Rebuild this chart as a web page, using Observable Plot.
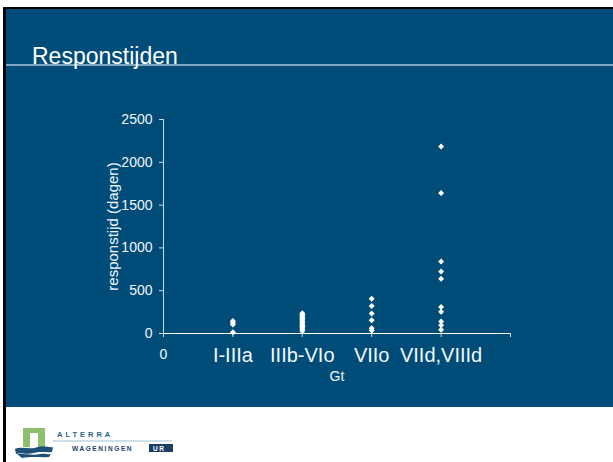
<!DOCTYPE html>
<html>
<head>
<meta charset="utf-8">
<script src="https://cdn.jsdelivr.net/npm/d3@7"></script>
<script src="https://cdn.jsdelivr.net/npm/@observablehq/plot@0.6"></script>
<style>
  html, body { margin: 0; padding: 0; background: #fff; width: 613px; height: 462px; overflow: hidden; font-family: "Liberation Sans", Arial, sans-serif; }
  .abs { position: absolute; }
</style>
</head>
<body>
<div class="abs" style="left:3px;top:7px;width:610px;height:2px;background:#000"></div>
<div class="abs" style="left:3px;top:7px;width:3px;height:455px;background:#000"></div>
<div class="abs" style="left:6px;top:9px;width:607px;height:398px;background:#004c79"></div>
<div class="abs" style="left:6px;top:64px;width:607px;height:2px;background:#7fa7c2"></div>
<div class="abs" style="left:32px;top:45px;font-size:23px;line-height:1;color:#fff;white-space:nowrap">Responstijden</div>
<div id="chart" class="abs" style="left:0;top:100px"></div>
<svg class="abs" style="left:0;top:415px" width="200" height="47">
  <path d="M23,13 H45 V32 H38 V18 H30 V32 H23 Z" fill="#8cc06b"/>
  <path d="M15,34 C22,31 30,35 38,32 C44,30 50,33 53,32 L52,37 C46,38 40,36 34,38 C26,40 20,37 16,39 Z" fill="#1f5078"/>
  <path d="M17,39 C24,38 32,41 40,39 C45,38 49,40 51,39 L49,42 C42,43 32,41 22,43 Z" fill="#1f5078"/>
  <text x="57" y="22" font-size="7.5" font-weight="bold" fill="#2b5f8f" letter-spacing="3">ALTERRA</text>
  <rect x="53" y="25.5" width="119" height="1" fill="#9fbfd6"/>
  <text x="72" y="36" font-size="6.5" font-weight="bold" fill="#1c3f66" letter-spacing="1.6">WAGENINGEN</text>
  <rect x="149" y="29" width="24" height="8" fill="#1c3f66"/>
  <text x="153" y="36" font-size="6.5" font-weight="bold" fill="#fff" letter-spacing="1.5">UR</text>
</svg>
<script>
const categories = ["I-IIIa", "IIIb-VIo", "VIIo", "VIId,VIIId"];
const valuesIIIIa = [145, 125, 105, 15];
const valuesIIIbVIo = [238, 220, 205, 190, 172, 160, 142, 128, 110, 95, 82, 66, 50, 30];
const valuesVIIo = [405, 320, 235, 155, 60, 35];
const valuesVIId = [2185, 1640, 840, 725, 640, 310, 255, 140, 95, 45];
const yTicks = [0, 500, 1000, 1500, 2000, 2500];
const xLabel = "Gt";
const yLabel = "responstijd (dagen)";

const series = [valuesIIIIa, valuesIIIbVIo, valuesVIIo, valuesVIId];
const points = series.flatMap((vals, i) => vals.map(v => ({x: i + 1, y: v})));

const axisCol = "#c9d9e6";
const chart = Plot.plot({
  width: 613,
  height: 300,
  marginLeft: 163,
  marginRight: 103,
  marginTop: 19,
  marginBottom: 67,
  x: {domain: [0, 5]},
  y: {domain: [0, 2500]},
  style: {background: "transparent", color: "#f2f6f9", fontFamily: "'Liberation Sans', Arial, sans-serif", fontSize: "14px", overflow: "visible"},
  marks: [
    Plot.ruleX([0], {y1: 0, y2: 2500, stroke: axisCol}),
    Plot.axisY({ticks: yTicks, tickSize: 4, tickPadding: 7, tickFormat: d => String(d), fontSize: 14, label: null, stroke: axisCol}),
    Plot.axisX({ticks: [0, 1, 2, 3, 4, 5], tickSize: 4, tickFormat: () => "", label: null, stroke: axisCol}),
    Plot.ruleY([0], {stroke: "#ffffff", strokeWidth: 1.2}),
    Plot.axisX({ticks: [1, 2, 3, 4], tickSize: 0, tickPadding: 14, tickFormat: d => categories[d - 1], fontSize: 20, label: null}),
    Plot.axisX({ticks: [0], tickSize: 0, tickPadding: 16, tickFormat: d => String(d), fontSize: 14, label: null}),
    Plot.text([xLabel], {frameAnchor: "bottom", lineAnchor: "top", dy: 38, fontSize: 14, fill: "#f2f6f9"}),
    Plot.text([yLabel], {frameAnchor: "left", textAnchor: "middle", rotate: -90, dx: -50, fontSize: 15, fill: "#f2f6f9"}),
    Plot.dot(points, {x: "x", y: "y", symbol: "diamond2", r: 2.7, fill: "#ffffff", stroke: "none"})
  ]
});
document.getElementById("chart").appendChild(chart);
</script>
</body>
</html>
